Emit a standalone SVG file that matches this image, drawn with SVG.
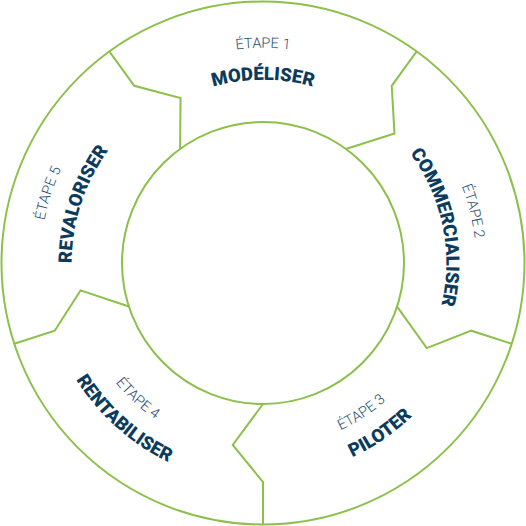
<svg xmlns="http://www.w3.org/2000/svg" xmlns:xlink="http://www.w3.org/1999/xlink" width="526" height="526" viewBox="0 0 526 526">
<style>
.ring{fill:none;stroke:#8cc04b;stroke-width:2}
.div{fill:none;stroke:#8cc04b;stroke-width:2;stroke-linejoin:miter}
.step{font-family:Roboto,"Liberation Sans",sans-serif;font-weight:300;font-size:14.5px;fill:#1f4e70}
.title{font-family:Roboto,"Liberation Sans",sans-serif;font-weight:900;font-size:18.5px;fill:#0b3c5d}
</style>
<defs>
<path id="p1a" d="M76.6,155.4 A215.2,215.2 0 0 1 449.4,155.4"/>
<path id="p1b" d="M104.3,171.4 A183.25,183.25 0 0 1 421.7,171.4"/>
<path id="p2a" d="M322.1,58.2 A213.2,213.2 0 0 1 410.8,416.6"/>
<path id="p2b" d="M320.5,89.0 A183.25,183.25 0 0 1 384.9,399.8"/>
<path id="p3a" d="M180.2,427.7 A184.3,184.3 0 0 0 447.0,252.4"/>
<path id="p3b" d="M171.0,455.9 A213.75,213.75 0 0 0 476.1,246.2"/>
<path id="p4a" d="M77.9,221.0 A189.8,189.8 0 0 0 319.1,444.3"/>
<path id="p4b" d="M47.3,218.3 A220.25,220.25 0 0 0 332.2,472.1"/>
<path id="p5a" d="M97.5,412.0 A222.7,222.7 0 0 1 216.7,45.2"/>
<path id="p5b" d="M120.9,391.0 A191.25,191.25 0 0 1 223.2,75.9"/>
<path id="divider" d="M263,404 L232.7,445 L263,482 L263,524.5"/>
</defs>
<g id="ring">
<circle class="ring" cx="263" cy="263" r="261.5"/>
<circle class="ring" cx="263" cy="263" r="141"/>
</g>
<g id="connectors">
<use xlink:href="#divider" href="#divider" class="div"/>
<use xlink:href="#divider" href="#divider" class="div" transform="rotate(72 263 263)"/>
<use xlink:href="#divider" href="#divider" class="div" transform="rotate(144 263 263)"/>
<use xlink:href="#divider" href="#divider" class="div" transform="rotate(216 263 263)"/>
<use xlink:href="#divider" href="#divider" class="div" transform="rotate(288 263 263)"/>
</g>
<g id="step1">
<text class="step" text-anchor="middle"><textPath href="#p1a" xlink:href="#p1a" startOffset="50%">ÉTAPE 1</textPath></text>
<text class="title" text-anchor="middle"><textPath href="#p1b" xlink:href="#p1b" startOffset="50%">MODÉLISER</textPath></text>
</g>
<g id="step2">
<text class="step" text-anchor="middle"><textPath href="#p2a" xlink:href="#p2a" startOffset="50%">ÉTAPE 2</textPath></text>
<text class="title" text-anchor="middle"><textPath href="#p2b" xlink:href="#p2b" startOffset="50%">COMMERCIALISER</textPath></text>
</g>
<g id="step3">
<text class="step" text-anchor="middle"><textPath href="#p3a" xlink:href="#p3a" startOffset="50%">ÉTAPE 3</textPath></text>
<text class="title" text-anchor="middle"><textPath href="#p3b" xlink:href="#p3b" startOffset="50%">PILOTER</textPath></text>
</g>
<g id="step4">
<text class="step" text-anchor="middle"><textPath href="#p4a" xlink:href="#p4a" startOffset="50%">ÉTAPE 4</textPath></text>
<text class="title" text-anchor="middle"><textPath href="#p4b" xlink:href="#p4b" startOffset="50%">RENTABILISER</textPath></text>
</g>
<g id="step5">
<text class="step" text-anchor="middle"><textPath href="#p5a" xlink:href="#p5a" startOffset="50%">ÉTAPE 5</textPath></text>
<text class="title" text-anchor="middle"><textPath href="#p5b" xlink:href="#p5b" startOffset="50%">REVALORISER</textPath></text>
</g>
</svg>
